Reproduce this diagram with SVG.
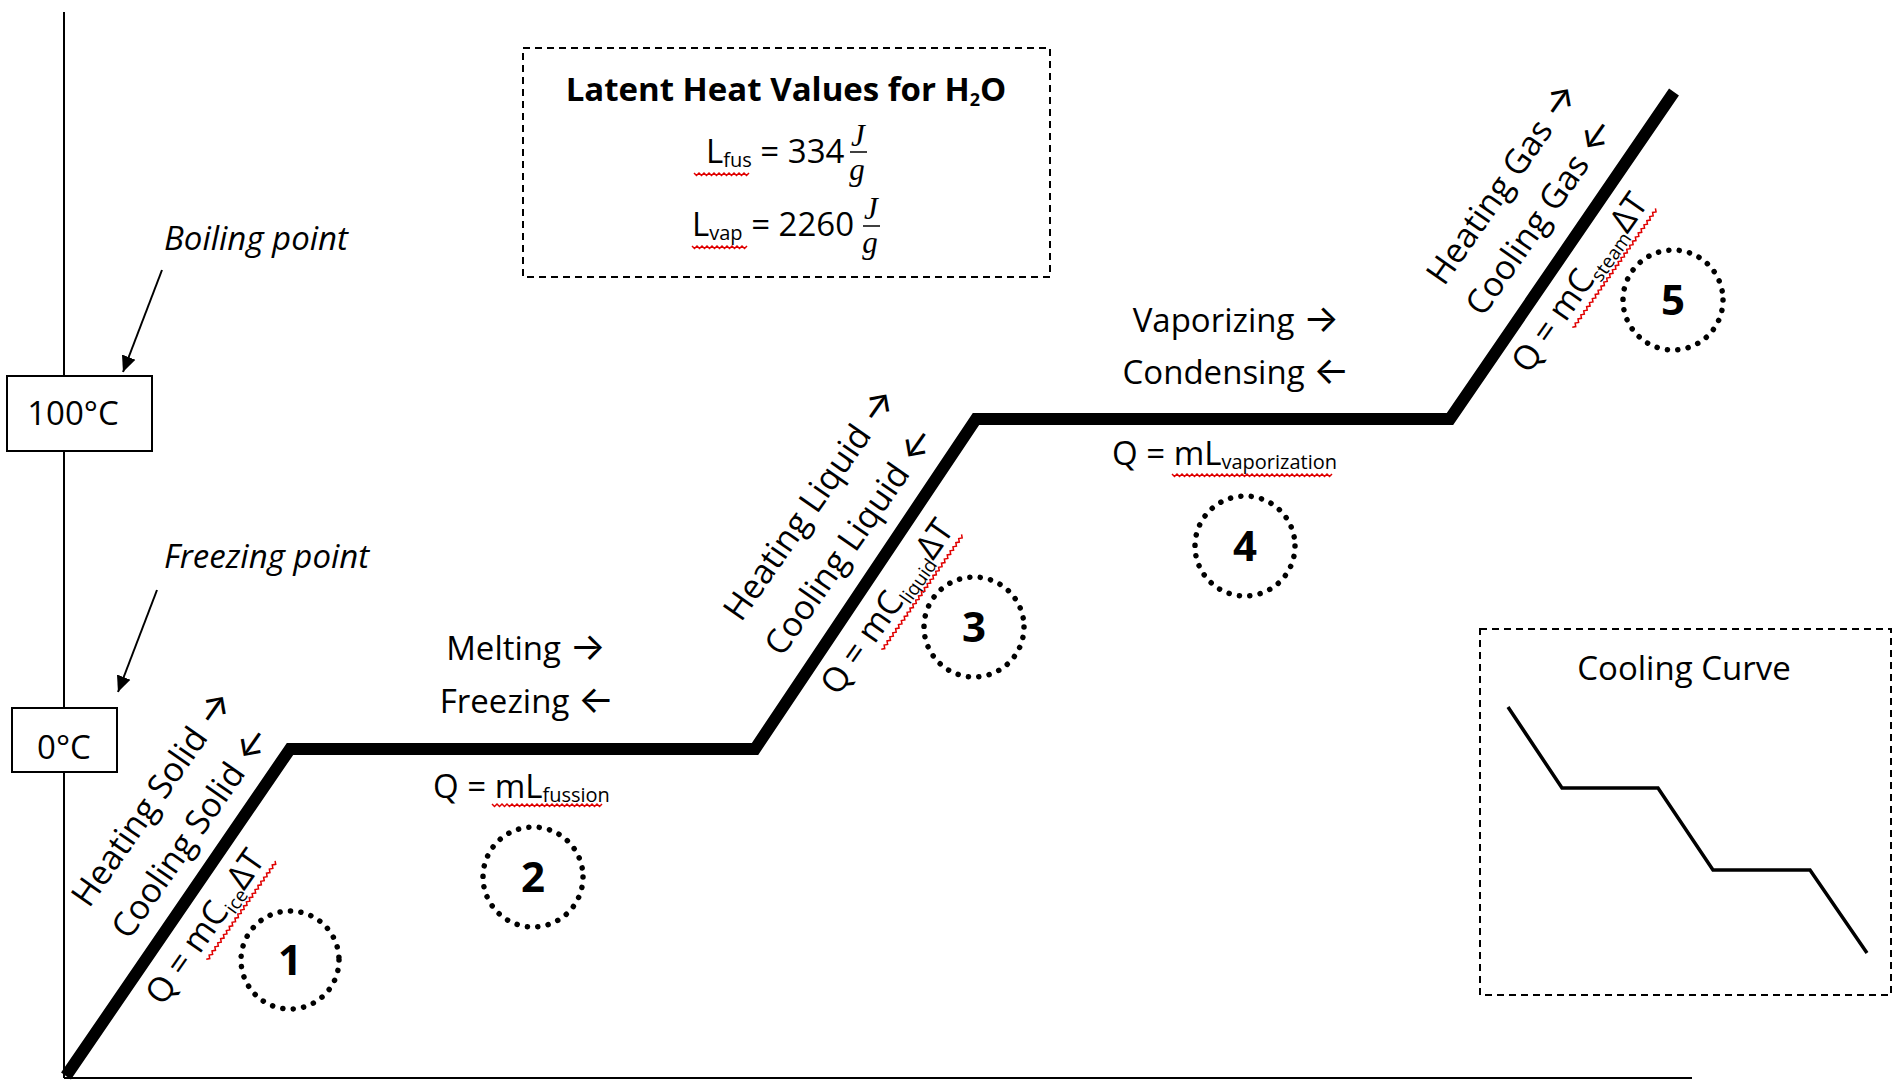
<svg xmlns="http://www.w3.org/2000/svg" width="1895" height="1081" viewBox="0 0 1895 1081">
<defs>
<style>
.t{font-family:"Open Sans","DejaVu Sans",sans-serif;fill:#000;font-size:33px}
.rot{font-family:"Open Sans","DejaVu Sans",sans-serif;fill:#000;font-size:34px}
.ar{font-family:Inter,"DejaVu Sans",sans-serif;font-size:38px}
.it{font-style:italic}
.b{font-weight:700}
.num{font-family:"Open Sans","DejaVu Sans",sans-serif;font-weight:700;font-size:42px;text-anchor:middle;fill:#000}
.frac{font-family:"Liberation Serif","DejaVu Serif",serif;font-style:italic;font-size:31px;text-anchor:middle;fill:#000}
.box{fill:#fff;stroke:#000;stroke-width:2}
.dash{fill:none;stroke:#000;stroke-width:2;stroke-dasharray:7 5}
.dots{fill:none;stroke:#000;stroke-width:5.5;stroke-linecap:round;stroke-dasharray:0.1 10.4}
.sq{fill:none;stroke:#e00000;stroke-width:1.5}
.thin{fill:none;stroke:#000;stroke-width:2}
</style>
<marker id="ahb" viewBox="0 0 10 10" refX="10" refY="5" markerWidth="16" markerHeight="16" orient="auto" markerUnits="userSpaceOnUse">
<path d="M0,0.5 L10,5 L0,9.5 z" fill="#000"/>
</marker>
</defs>

<g id="axes">
<line x1="64" y1="12" x2="64" y2="1078" class="thin"/>
<line x1="64" y1="1078" x2="1692" y2="1078" class="thin"/>
</g>

<g id="connectors">
<polyline id="heating-curve" points="66,1076 290,749 755,749 976,419 1450,419 1674,92" fill="none" stroke="#000" stroke-width="12" stroke-linejoin="miter"/>
<line x1="162" y1="270" x2="123" y2="372" class="thin" marker-end="url(#ahb)"/>
<line x1="157" y1="590" x2="118" y2="692" class="thin" marker-end="url(#ahb)"/>
</g>

<g id="box-100C">
<rect x="7" y="376" width="145" height="75" class="box"/>
<text x="73" y="425" class="t" text-anchor="middle">100°C</text>
</g>
<g id="box-0C">
<rect x="12" y="708" width="105" height="64" class="box"/>
<text x="64" y="759" class="t" text-anchor="middle">0°C</text>
</g>

<g id="label-boiling">
<text x="164" y="250" class="t it">Boiling point</text>
</g>
<g id="label-freezing">
<text x="164" y="568" class="t it">Freezing point</text>
</g>

<g id="latent-heat-box">
<rect x="523" y="48" width="527" height="229" class="dash"/>
<text x="786" y="101" class="t b" font-size="27" text-anchor="middle">Latent Heat Values for H<tspan font-size="18" dy="5">2</tspan><tspan dy="-5">O</tspan></text>
<text x="706" y="163" class="t" font-size="31">L<tspan font-size="20" dy="4">fus</tspan><tspan dy="-4"> = 334</tspan></text>
<text x="858" y="146" class="frac">J</text>
<line x1="850" y1="152" x2="867" y2="152" stroke="#000" stroke-width="1.5"/>
<text x="857" y="180" class="frac">g</text>
<path class="sq" d="M694,173 l2.5,2.5 l2.5,-2.5 l2.5,2.5 l2.5,-2.5 l2.5,2.5 l2.5,-2.5 l2.5,2.5 l2.5,-2.5 l2.5,2.5 l2.5,-2.5 l2.5,2.5 l2.5,-2.5 l2.5,2.5 l2.5,-2.5 l2.5,2.5 l2.5,-2.5 l2.5,2.5 l2.5,-2.5 l2.5,2.5 l2.5,-2.5 l2.5,2.5 l2.5,-2.5"/>
<text x="692" y="236" class="t" font-size="31">L<tspan font-size="20" dy="4">vap</tspan><tspan dy="-4"> = 2260</tspan></text>
<text x="871" y="219" class="frac">J</text>
<line x1="863" y1="226" x2="880" y2="226" stroke="#000" stroke-width="1.5"/>
<text x="870" y="253" class="frac">g</text>
<path class="sq" d="M692,246 l2.5,2.5 l2.5,-2.5 l2.5,2.5 l2.5,-2.5 l2.5,2.5 l2.5,-2.5 l2.5,2.5 l2.5,-2.5 l2.5,2.5 l2.5,-2.5 l2.5,2.5 l2.5,-2.5 l2.5,2.5 l2.5,-2.5 l2.5,2.5 l2.5,-2.5 l2.5,2.5 l2.5,-2.5 l2.5,2.5 l2.5,-2.5 l2.5,2.5 l2.5,-2.5"/>
</g>

<g id="stage-1">
<g transform="translate(89,909) rotate(-55)"><text class="rot">Heating Solid <tspan class="ar">→</tspan></text></g>
<g transform="translate(129,941) rotate(-55)"><text class="rot">Cooling Solid <tspan class="ar">←</tspan></text></g>
<g transform="translate(163,1007) rotate(-55)">
<text class="rot">Q = mC<tspan font-size="19" dy="6">ice</tspan><tspan dy="-6">ΔT</tspan></text>
<path class="sq" d="M64,8 l2.5,2.5 l2.5,-2.5 l2.5,2.5 l2.5,-2.5 l2.5,2.5 l2.5,-2.5 l2.5,2.5 l2.5,-2.5 l2.5,2.5 l2.5,-2.5 l2.5,2.5 l2.5,-2.5 l2.5,2.5 l2.5,-2.5 l2.5,2.5 l2.5,-2.5 l2.5,2.5 l2.5,-2.5 l2.5,2.5 l2.5,-2.5 l2.5,2.5 l2.5,-2.5 l2.5,2.5 l2.5,-2.5 l2.5,2.5 l2.5,-2.5 l2.5,2.5 l2.5,-2.5 l2.5,2.5 l2.5,-2.5 l2.5,2.5 l2.5,-2.5 l2.5,2.5 l2.5,-2.5 l2.5,2.5 l2.5,-2.5 l2.5,2.5 l2.5,-2.5 l2.5,2.5 l2.5,-2.5 l2.5,2.5 l2.5,-2.5 l2.5,2.5 l2.5,-2.5 l2.5,2.5 l2.5,-2.5 l2.5,2.5 l2.5,-2.5"/>
</g>
<circle cx="290" cy="960" r="49" class="dots"/>
<text x="290" y="975" class="num">1</text>
</g>

<g id="stage-2">
<text x="526" y="660" class="t" text-anchor="middle">Melting <tspan class="ar">→</tspan></text>
<text x="527" y="713" class="t" text-anchor="middle">Freezing <tspan class="ar">←</tspan></text>
<text x="433" y="798" class="t">Q = mL<tspan font-size="20" dy="4">fussion</tspan></text>
<path class="sq" d="M492,804 l2.5,2.5 l2.5,-2.5 l2.5,2.5 l2.5,-2.5 l2.5,2.5 l2.5,-2.5 l2.5,2.5 l2.5,-2.5 l2.5,2.5 l2.5,-2.5 l2.5,2.5 l2.5,-2.5 l2.5,2.5 l2.5,-2.5 l2.5,2.5 l2.5,-2.5 l2.5,2.5 l2.5,-2.5 l2.5,2.5 l2.5,-2.5 l2.5,2.5 l2.5,-2.5 l2.5,2.5 l2.5,-2.5 l2.5,2.5 l2.5,-2.5 l2.5,2.5 l2.5,-2.5 l2.5,2.5 l2.5,-2.5 l2.5,2.5 l2.5,-2.5 l2.5,2.5 l2.5,-2.5 l2.5,2.5 l2.5,-2.5 l2.5,2.5 l2.5,-2.5 l2.5,2.5 l2.5,-2.5 l2.5,2.5 l2.5,-2.5 l2.5,2.5 l2.5,-2.5"/>
<circle cx="533" cy="877" r="50" class="dots"/>
<text x="533" y="892" class="num">2</text>
</g>

<g id="stage-3">
<g transform="translate(741,623) rotate(-55)"><text class="rot">Heating Liquid <tspan class="ar">→</tspan></text></g>
<g transform="translate(782,658) rotate(-55)"><text class="rot">Cooling Liquid <tspan class="ar">←</tspan></text></g>
<g transform="translate(838,697) rotate(-55)">
<text class="rot">Q = mC<tspan font-size="19" dy="6">liquid</tspan><tspan dy="-6">ΔT</tspan></text>
<path class="sq" d="M64,8 l2.5,2.5 l2.5,-2.5 l2.5,2.5 l2.5,-2.5 l2.5,2.5 l2.5,-2.5 l2.5,2.5 l2.5,-2.5 l2.5,2.5 l2.5,-2.5 l2.5,2.5 l2.5,-2.5 l2.5,2.5 l2.5,-2.5 l2.5,2.5 l2.5,-2.5 l2.5,2.5 l2.5,-2.5 l2.5,2.5 l2.5,-2.5 l2.5,2.5 l2.5,-2.5 l2.5,2.5 l2.5,-2.5 l2.5,2.5 l2.5,-2.5 l2.5,2.5 l2.5,-2.5 l2.5,2.5 l2.5,-2.5 l2.5,2.5 l2.5,-2.5 l2.5,2.5 l2.5,-2.5 l2.5,2.5 l2.5,-2.5 l2.5,2.5 l2.5,-2.5 l2.5,2.5 l2.5,-2.5 l2.5,2.5 l2.5,-2.5 l2.5,2.5 l2.5,-2.5 l2.5,2.5 l2.5,-2.5 l2.5,2.5 l2.5,-2.5 l2.5,2.5 l2.5,-2.5 l2.5,2.5 l2.5,-2.5 l2.5,2.5 l2.5,-2.5 l2.5,2.5 l2.5,-2.5"/>
</g>
<circle cx="974" cy="627" r="50" class="dots"/>
<text x="974" y="642" class="num">3</text>
</g>

<g id="stage-4">
<text x="1236" y="332" class="t" text-anchor="middle">Vaporizing <tspan class="ar">→</tspan></text>
<text x="1236" y="384" class="t" text-anchor="middle">Condensing <tspan class="ar">←</tspan></text>
<text x="1112" y="465" class="t">Q = mL<tspan font-size="20" dy="4">vaporization</tspan></text>
<path class="sq" d="M1172,474 l2.5,2.5 l2.5,-2.5 l2.5,2.5 l2.5,-2.5 l2.5,2.5 l2.5,-2.5 l2.5,2.5 l2.5,-2.5 l2.5,2.5 l2.5,-2.5 l2.5,2.5 l2.5,-2.5 l2.5,2.5 l2.5,-2.5 l2.5,2.5 l2.5,-2.5 l2.5,2.5 l2.5,-2.5 l2.5,2.5 l2.5,-2.5 l2.5,2.5 l2.5,-2.5 l2.5,2.5 l2.5,-2.5 l2.5,2.5 l2.5,-2.5 l2.5,2.5 l2.5,-2.5 l2.5,2.5 l2.5,-2.5 l2.5,2.5 l2.5,-2.5 l2.5,2.5 l2.5,-2.5 l2.5,2.5 l2.5,-2.5 l2.5,2.5 l2.5,-2.5 l2.5,2.5 l2.5,-2.5 l2.5,2.5 l2.5,-2.5 l2.5,2.5 l2.5,-2.5 l2.5,2.5 l2.5,-2.5 l2.5,2.5 l2.5,-2.5 l2.5,2.5 l2.5,-2.5 l2.5,2.5 l2.5,-2.5 l2.5,2.5 l2.5,-2.5 l2.5,2.5 l2.5,-2.5 l2.5,2.5 l2.5,-2.5 l2.5,2.5 l2.5,-2.5 l2.5,2.5 l2.5,-2.5 l2.5,2.5 l2.5,-2.5"/>
<circle cx="1245" cy="546" r="50" class="dots"/>
<text x="1245" y="561" class="num">4</text>
</g>

<g id="stage-5">
<g transform="translate(1444,287) rotate(-55)"><text class="rot">Heating Gas <tspan class="ar">→</tspan></text></g>
<g transform="translate(1483,318) rotate(-55)"><text class="rot">Cooling Gas <tspan class="ar">←</tspan></text></g>
<g transform="translate(1529,375) rotate(-55)">
<text class="rot">Q = mC<tspan font-size="19" dy="6">steam</tspan><tspan dy="-6">ΔT</tspan></text>
<path class="sq" d="M64,8 l2.5,2.5 l2.5,-2.5 l2.5,2.5 l2.5,-2.5 l2.5,2.5 l2.5,-2.5 l2.5,2.5 l2.5,-2.5 l2.5,2.5 l2.5,-2.5 l2.5,2.5 l2.5,-2.5 l2.5,2.5 l2.5,-2.5 l2.5,2.5 l2.5,-2.5 l2.5,2.5 l2.5,-2.5 l2.5,2.5 l2.5,-2.5 l2.5,2.5 l2.5,-2.5 l2.5,2.5 l2.5,-2.5 l2.5,2.5 l2.5,-2.5 l2.5,2.5 l2.5,-2.5 l2.5,2.5 l2.5,-2.5 l2.5,2.5 l2.5,-2.5 l2.5,2.5 l2.5,-2.5 l2.5,2.5 l2.5,-2.5 l2.5,2.5 l2.5,-2.5 l2.5,2.5 l2.5,-2.5 l2.5,2.5 l2.5,-2.5 l2.5,2.5 l2.5,-2.5 l2.5,2.5 l2.5,-2.5 l2.5,2.5 l2.5,-2.5 l2.5,2.5 l2.5,-2.5 l2.5,2.5 l2.5,-2.5 l2.5,2.5 l2.5,-2.5 l2.5,2.5 l2.5,-2.5 l2.5,2.5 l2.5,-2.5"/>
</g>
<circle cx="1673" cy="300" r="50" class="dots"/>
<text x="1673" y="315" class="num">5</text>
</g>

<g id="cooling-curve-box">
<rect x="1480" y="629" width="411" height="366" class="dash"/>
<text x="1684" y="680" class="t" text-anchor="middle">Cooling Curve</text>
<polyline points="1508,707 1562,788 1658,788 1713,870 1810,870 1867,953" fill="none" stroke="#000" stroke-width="3.5"/>
</g>
</svg>
